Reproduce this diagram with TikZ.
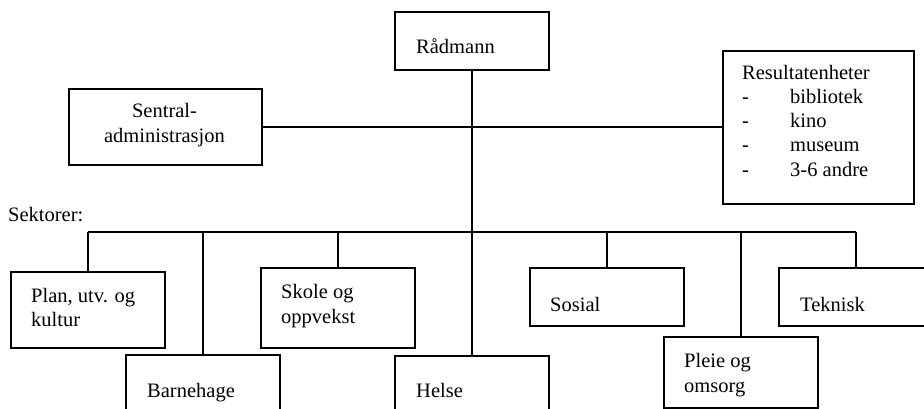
\documentclass[tikz,border=0pt]{standalone}
\usepackage{fontspec}
\setmainfont{Liberation Serif}
\begin{document}
\begin{tikzpicture}[x=1pt,y=-1pt,
  box/.style={draw, line width=1.7pt, anchor=north west, inner sep=0pt},
  lbl/.style={anchor=base west, inner sep=0pt, font=\fontsize{20.5}{24}\selectfont},
  clbl/.style={anchor=base, inner sep=0pt, font=\fontsize{20.5}{24}\selectfont},
  wire/.style={line width=1.7pt}]
\useasboundingbox (0,0) rectangle (924,409);
\clip (0,0) rectangle (924,409);

% frames
\node[box, minimum width=154pt, minimum height=58pt] (radmann) at (394,11) {};
\node[box, minimum width=193pt, minimum height=76pt] (sentral) at (68,88) {};
\node[box, minimum width=191pt, minimum height=153pt] (result) at (722,50) {};
\node[box, minimum width=154pt, minimum height=76pt] (plan) at (10,271) {};
\node[box, minimum width=154pt, minimum height=80pt] (skole) at (260,267) {};
\node[box, minimum width=154pt, minimum height=58pt] (sosial) at (529,267) {};
\node[box, minimum width=154pt, minimum height=58pt] (teknisk) at (778,267) {};
\node[box, minimum width=154pt, minimum height=80pt] (barnehage) at (125,354) {};
\node[box, minimum width=154pt, minimum height=80pt] (helse) at (394,355) {};
\node[box, minimum width=154pt, minimum height=71pt] (pleie) at (663,336) {};

% connectors
\coordinate (busy) at (0,232);
\draw[wire] (radmann.south) -- (helse.north);
\draw[wire] (sentral.east) -- (sentral.east -| result.west);
\draw[wire] (plan.north |- busy) -- (teknisk.north |- busy);
\foreach \n in {plan,barnehage,skole,sosial,pleie,teknisk}
  \draw[wire] (\n.north |- busy) -- (\n.north);

% labels
\node[lbl] (tRad) at (416,54) {Rådmann};
\node[clbl] (tSen1) at (164.5,118) {Sentral-};
\node[clbl] (tSen2) at (164.5,143) {administrasjon};
\node[lbl] (tRes) at (742,80) {Resultatenheter};
\foreach \y/\t [count=\i] in {104/bibliotek,128/kino,152/museum,176/3-6 andre}{
  \node[lbl] (dash\i) at (742,\y) {-};
  \node[lbl] (item\i) at (790,\y) {\t};
}
\node[lbl] (tSek) at (8,221) {Sektorer:};
\node[lbl] (tPlan1) at (31,302) {Plan, utv. og};
\node[lbl] (tPlan2) at (31,326) {kultur};
\node[lbl] (tSko1) at (281,298) {Skole og};
\node[lbl] (tSko2) at (281,323) {oppvekst};
\node[lbl] (tSos) at (550,311) {Sosial};
\node[lbl] (tTek) at (800,311) {Teknisk};
\node[lbl] (tBar) at (147,397) {Barnehage};
\node[lbl] (tHel) at (416,397) {Helse};
\node[lbl] (tPle1) at (684,367) {Pleie og};
\node[lbl] (tPle2) at (684,392) {omsorg};
\end{tikzpicture}
\end{document}
